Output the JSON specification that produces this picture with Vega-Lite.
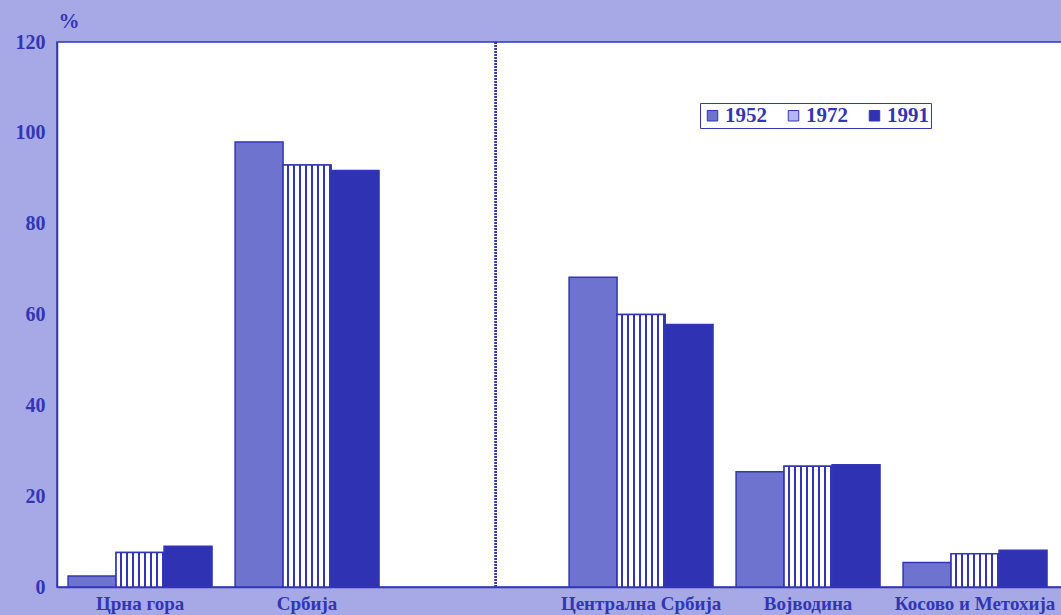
{
  "$schema": "https://vega.github.io/schema/vega-lite/v6.json",
  "width": 1006,
  "height": 545,
  "autosize": {"type": "none"},
  "padding": {"left": 57, "top": 42, "right": 0, "bottom": 28},
  "background": "#a6a9e6",
  "config": {
    "view": {"fill": "white", "stroke": "#3236b4", "strokeWidth": 1.5},
    "font": "Liberation Serif",
    "axis": {"labelFont": "Liberation Serif", "labelFontWeight": "bold", "labelColor": "#3236b4", "titleColor": "#3236b4", "titleFont": "Liberation Serif", "domainColor": "#3236b4", "domainWidth": 1.5, "ticks": false, "grid": false}
  },
  "data": {
    "values": [
      {"region": "Црна гора", "year": "1952", "value": 2.4},
      {"region": "Црна гора", "year": "1972", "value": 7.6},
      {"region": "Црна гора", "year": "1991", "value": 9.0},
      {"region": "Србија", "year": "1952", "value": 98.0},
      {"region": "Србија", "year": "1972", "value": 92.9},
      {"region": "Србија", "year": "1991", "value": 91.7},
      {"region": "Централна Србија", "year": "1952", "value": 68.2},
      {"region": "Централна Србија", "year": "1972", "value": 60.0},
      {"region": "Централна Србија", "year": "1991", "value": 57.8},
      {"region": "Војводина", "year": "1952", "value": 25.4},
      {"region": "Војводина", "year": "1972", "value": 26.6},
      {"region": "Војводина", "year": "1991", "value": 26.9},
      {"region": "Косово и Метохија", "year": "1952", "value": 5.4},
      {"region": "Косово и Метохија", "year": "1972", "value": 7.3},
      {"region": "Косово и Метохија", "year": "1991", "value": 8.1}
    ]
  },
  "encoding": {
    "x": {
      "field": "region", "type": "nominal", "title": null,
      "scale": {"domain": ["Црна гора", "Србија", " ", "Централна Србија", "Војводина", "Косово и Метохија"], "paddingInner": 0.138, "paddingOuter": 0.081, "align": 0.41},
      "axis": {"labelAngle": 0, "labelFontSize": 19, "labelPadding": 7, "labelLimit": 0, "domain": true}
    },
    "xOffset": {"field": "year", "type": "nominal", "scale": {"paddingInner": 0, "paddingOuter": 0}},
    "y": {
      "field": "value", "type": "quantitative",
      "scale": {"domain": [0, 120], "nice": false},
      "axis": {"values": [0, 20, 40, 60, 80, 100, 120], "labelFontSize": 20, "labelPadding": 12, "domain": true, "title": "%", "titleAngle": 0, "titleFontSize": 21, "titleFontWeight": "bold", "titleAlign": "left", "titleBaseline": "alphabetic", "titleX": 1, "titleY": -15}
    }
  },
  "layer": [
    {
      "mark": {"type": "rule", "color": "#3236b4", "strokeWidth": 1.5, "strokeDash": [2, 1]},
      "encoding": {"x": {"datum": " ", "type": "nominal", "bandPosition": 0.65}, "y": null, "xOffset": null}
    },
    {
      "mark": {"type": "bar", "stroke": "#3236b4", "strokeWidth": 1.5},
      "encoding": {
        "color": {
          "field": "year", "type": "nominal",
          "scale": {"domain": ["1952", "1972", "1991"], "range": ["#6f73d0", "#b4b6ec", "#2f32b2"]},
          "legend": {
            "title": null, "orient": "none", "legendX": 643, "legendY": 61, "direction": "horizontal",
            "fillColor": "white", "strokeColor": "#3236b4", "padding": 2,
            "symbolType": "square", "symbolSize": 110, "symbolStrokeColor": "#3236b4", "symbolStrokeWidth": 1,
            "labelFont": "Liberation Serif", "labelFontWeight": "bold", "labelFontSize": 21, "labelColor": "#3236b4",
            "columnPadding": 16, "labelOffset": 2
          }
        }
      }
    },
    {
      "transform": [{"filter": "datum.year == '1972'"}],
      "mark": {
        "type": "bar", "stroke": "#3236b4", "strokeWidth": 1.5,
        "fill": {
          "gradient": "linear", "x1": 0, "y1": 0, "x2": 1, "y2": 0,
          "stops": [
            {"offset": 0, "color": "white"}, {"offset": 0.075, "color": "white"}, {"offset": 0.075, "color": "#3236b4"}, {"offset": 0.125, "color": "#3236b4"},
            {"offset": 0.125, "color": "white"}, {"offset": 0.2, "color": "white"}, {"offset": 0.2, "color": "#3236b4"}, {"offset": 0.25, "color": "#3236b4"},
            {"offset": 0.25, "color": "white"}, {"offset": 0.325, "color": "white"}, {"offset": 0.325, "color": "#3236b4"}, {"offset": 0.375, "color": "#3236b4"},
            {"offset": 0.375, "color": "white"}, {"offset": 0.45, "color": "white"}, {"offset": 0.45, "color": "#3236b4"}, {"offset": 0.5, "color": "#3236b4"},
            {"offset": 0.5, "color": "white"}, {"offset": 0.575, "color": "white"}, {"offset": 0.575, "color": "#3236b4"}, {"offset": 0.625, "color": "#3236b4"},
            {"offset": 0.625, "color": "white"}, {"offset": 0.7, "color": "white"}, {"offset": 0.7, "color": "#3236b4"}, {"offset": 0.75, "color": "#3236b4"},
            {"offset": 0.75, "color": "white"}, {"offset": 0.825, "color": "white"}, {"offset": 0.825, "color": "#3236b4"}, {"offset": 0.875, "color": "#3236b4"},
            {"offset": 0.875, "color": "white"}, {"offset": 0.95, "color": "white"}, {"offset": 0.95, "color": "#3236b4"}, {"offset": 1, "color": "#3236b4"}
          ]
        }
      }
    }
  ]
}
